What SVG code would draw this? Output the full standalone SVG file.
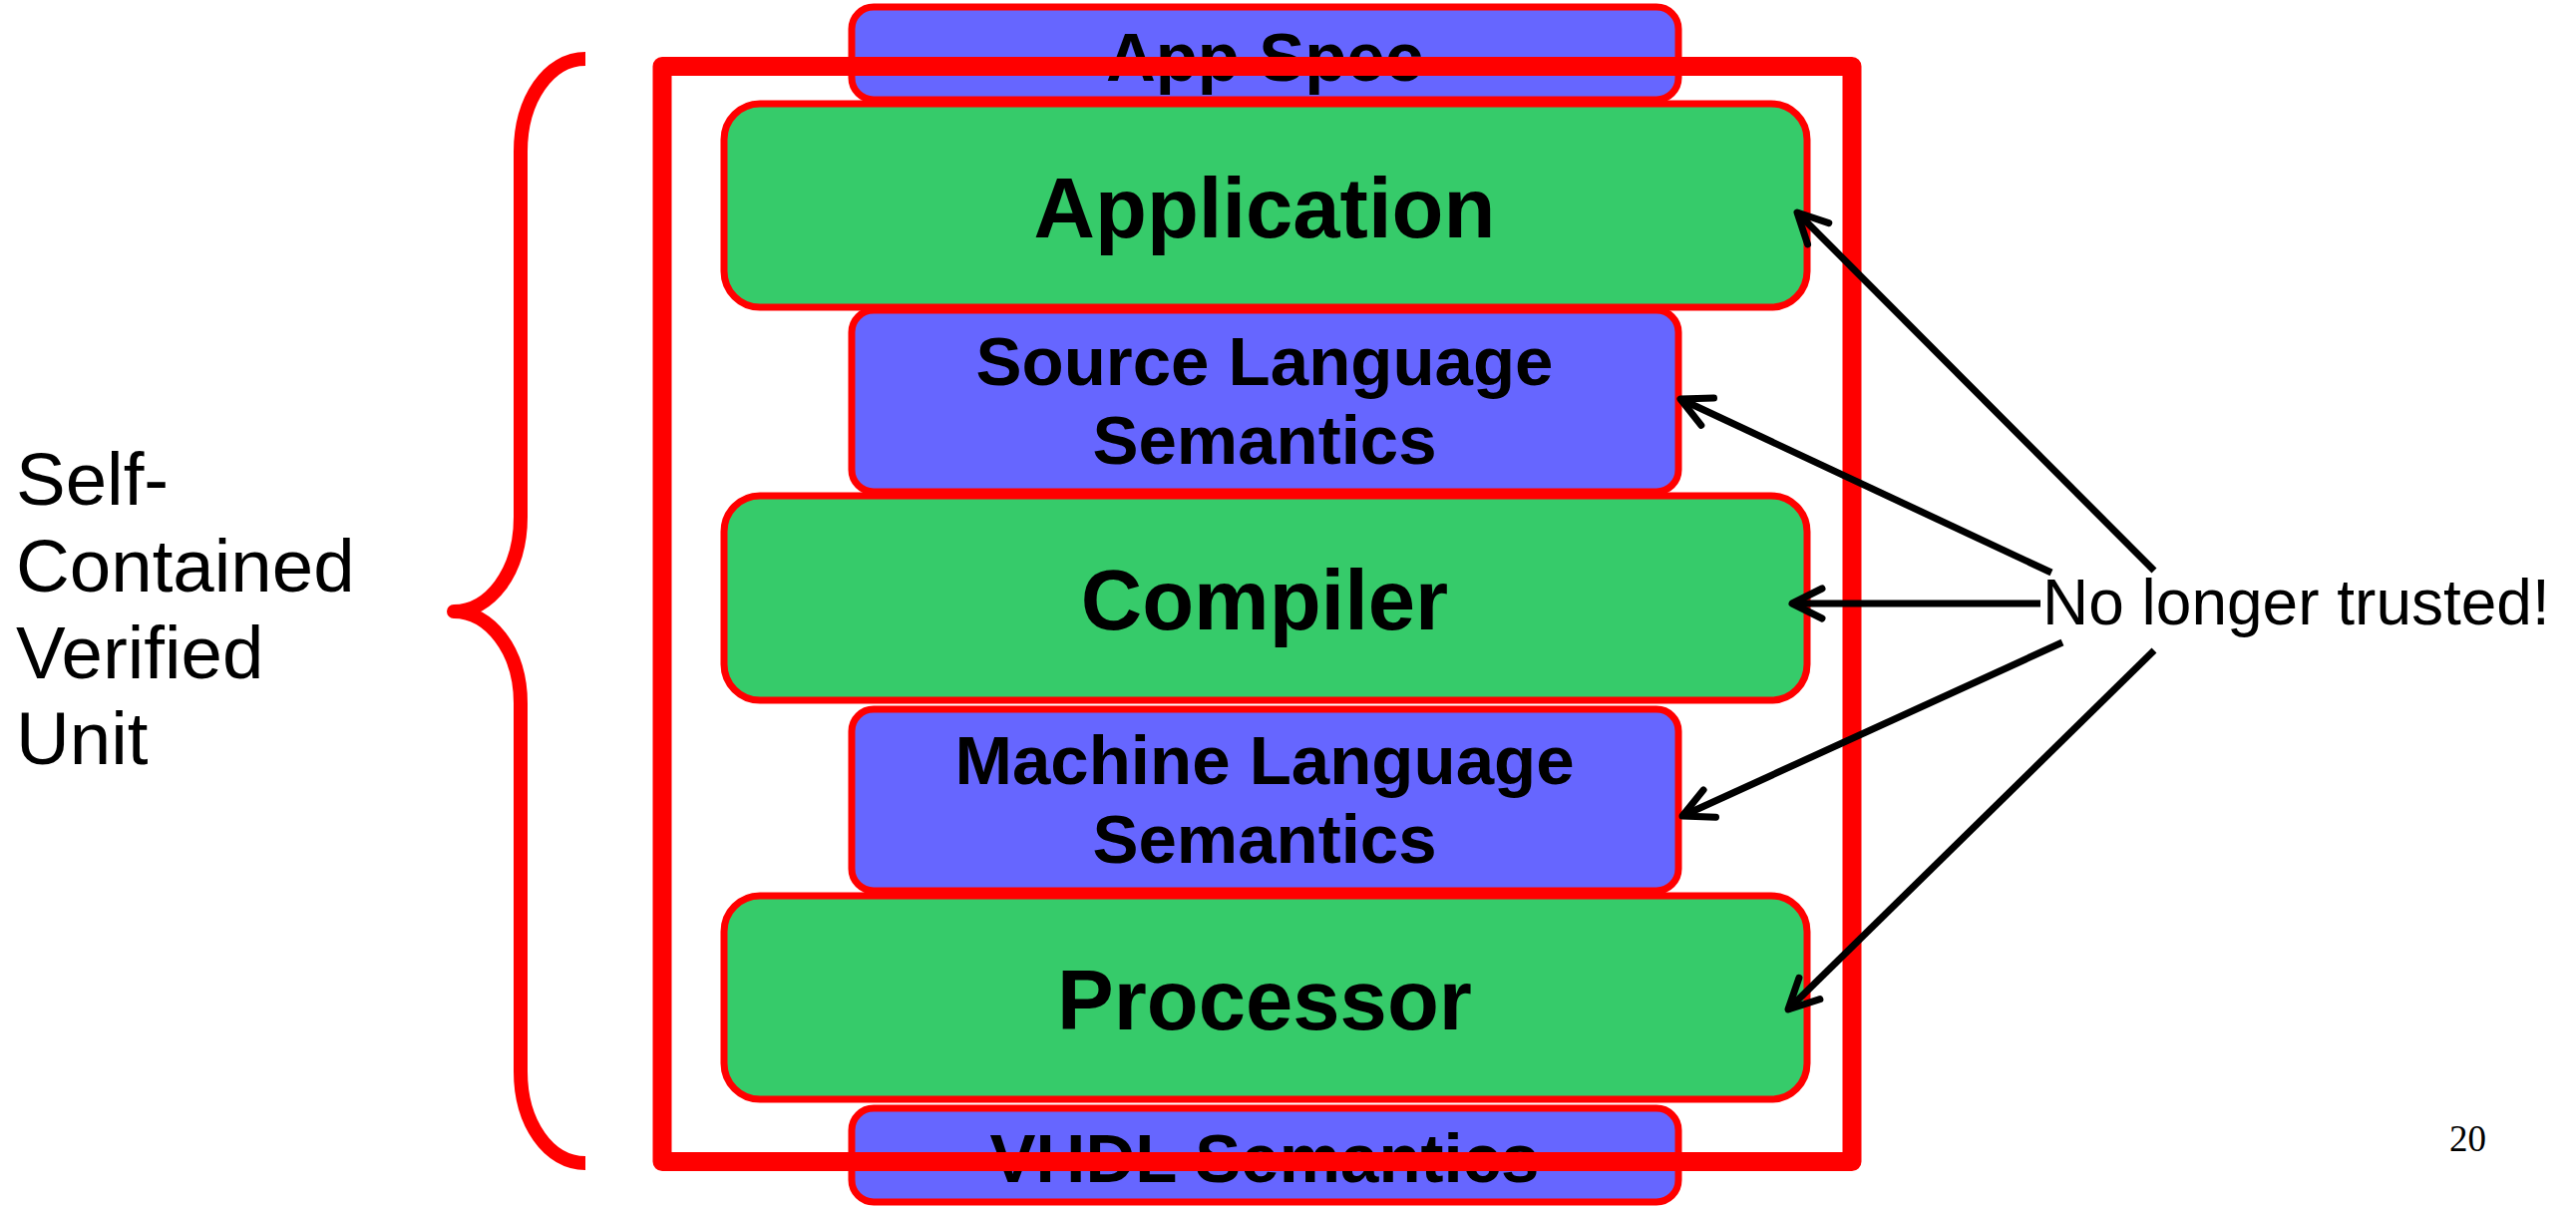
<svg xmlns="http://www.w3.org/2000/svg" width="2583" height="1209" viewBox="0 0 2583 1209">
<style>
.green{fill:#36CB6A;stroke:#FF0000;stroke-width:7}
.blue{fill:#6666FF;stroke:#FF0000;stroke-width:7}
.glabel{font-family:"Liberation Sans",Arial,sans-serif;font-weight:bold;font-size:85px;fill:#000;text-anchor:middle}
.blabel{font-family:"Liberation Sans",Arial,sans-serif;font-weight:bold;font-size:69px;fill:#000;text-anchor:middle}
.plain{font-family:"Liberation Sans",Arial,sans-serif;fill:#000}
.conn{stroke:#000;stroke-width:7;fill:none;marker-end:url(#arrow)}
</style>
<defs>
<marker id="arrow" markerUnits="userSpaceOnUse" markerWidth="40" markerHeight="40" viewBox="-36 -20 40 40" refX="0" refY="0" orient="auto" overflow="visible">
<path d="M -30 -15 L 0 0 L -30 15" fill="none" stroke="#000" stroke-width="7" stroke-linecap="round" stroke-linejoin="round"/>
</marker>
</defs>
<rect width="2583" height="1209" fill="#FFFFFF"/>

<g id="app-spec">
<rect class="blue" x="854" y="7" width="829" height="93" rx="22"/>
<text class="blabel" x="1268" y="81">App Spec</text>
</g>
<g id="application">
<rect class="green" x="726" y="104" width="1086" height="204" rx="36"/>
<text class="glabel" x="1268" y="238">Application</text>
</g>
<g id="source-language-semantics">
<rect class="blue" x="854" y="311" width="829" height="182" rx="22"/>
<text class="blabel" x="1268" y="386">Source Language</text>
<text class="blabel" x="1268" y="465">Semantics</text>
</g>
<g id="compiler">
<rect class="green" x="726" y="497" width="1086" height="205" rx="36"/>
<text class="glabel" x="1268" y="631">Compiler</text>
</g>
<g id="machine-language-semantics">
<rect class="blue" x="854" y="711" width="829" height="182" rx="22"/>
<text class="blabel" x="1268" y="786">Machine Language</text>
<text class="blabel" x="1268" y="865">Semantics</text>
</g>
<g id="processor">
<rect class="green" x="726" y="898" width="1086" height="204" rx="36"/>
<text class="glabel" x="1268" y="1032">Processor</text>
</g>
<g id="vhdl-semantics">
<rect class="blue" x="854" y="1111" width="829" height="94" rx="22"/>
<text class="blabel" x="1268" y="1185">VHDL Semantics</text>
</g>

<g id="verified-unit-boundary">
<rect x="664" y="66.5" width="1193" height="1098" fill="none" stroke="#FF0000" stroke-width="19" stroke-linejoin="round"/>
</g>

<g id="brace">
<path d="M 587 59 C 550 59 522 100 522 152 L 522 518 C 522 575 490 613 455 613 C 490 613 522 651 522 705 L 522 1074 C 522 1126 550 1166 587 1166" fill="none" stroke="#FF0000" stroke-width="14" stroke-linejoin="round"/>
</g>

<g id="self-contained-label">
<text class="plain" font-size="74.5" x="16">
<tspan x="16" y="506">Self-</tspan>
<tspan x="16" y="593">Contained</tspan>
<tspan x="16" y="680">Verified</tspan>
<tspan x="16" y="766">Unit</tspan>
</text>
</g>

<g id="no-longer-trusted">
<text class="plain" font-size="64" x="2048" y="626">No longer trusted!</text>
</g>

<g id="connectors">
<line class="conn" x1="2160" y1="572" x2="1802" y2="213"/>
<line class="conn" x1="2057" y1="574" x2="1685" y2="400"/>
<line class="conn" x1="2046" y1="605" x2="1797" y2="605"/>
<line class="conn" x1="2068" y1="644" x2="1687" y2="818"/>
<line class="conn" x1="2160" y1="652" x2="1793" y2="1012"/>
</g>

<g id="page-number">
<text font-family="'Liberation Serif','Times New Roman',serif" font-size="37" x="2456" y="1154" fill="#000">20</text>
</g>
</svg>
